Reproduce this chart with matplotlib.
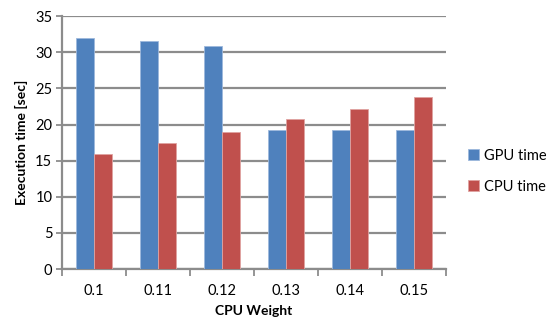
import matplotlib.pyplot as plt
import numpy as np

weights = ["0.1", "0.11", "0.12", "0.13", "0.14", "0.15"]
gpu_time = [32.0, 31.5, 30.8, 19.2, 19.2, 19.2]
cpu_time = [15.9, 17.4, 19.0, 20.7, 22.2, 23.8]

plt.rcParams["font.family"] = ["Lato", "DejaVu Sans"]

fig = plt.figure(figsize=(5.54, 3.23), dpi=100)
ax = fig.add_axes([0.112, 0.167, 0.693, 0.783])

x = np.arange(len(weights))
w = 0.285
ax.bar(x - w / 2, gpu_time, w, color="#4F81BD", edgecolor="#9db8dc", linewidth=0.6,
       label="GPU time", zorder=3)
ax.bar(x + w / 2, cpu_time, w, color="#C0504D", edgecolor="#e0a3a1", linewidth=0.6,
       label="CPU time", zorder=3)

ax.set_xlim(-0.5, len(weights) - 0.5)
ax.set_ylim(0, 35)
ax.set_yticks(range(0, 36, 5))
ax.yaxis.grid(True, color="#8c8c8c", linewidth=1.6, zorder=0)
ax.set_axisbelow(True)

# category labels in the middle, tick marks on the boundaries
ax.set_xticks(x)
ax.set_xticklabels(weights)
ax.tick_params(axis="x", length=0, pad=11)
ax.set_xticks(np.arange(-0.5, len(weights)), minor=True)
ax.tick_params(axis="x", which="minor", length=5, width=1.3, color="#8c8c8c")
ax.tick_params(axis="y", length=4, width=1.3, color="#8c8c8c", pad=3)
ax.tick_params(labelsize=10.5, labelcolor="black")

for side in ["top", "right"]:
    ax.spines[side].set_visible(False)
for side in ["left", "bottom"]:
    ax.spines[side].set_color("#8c8c8c")
    ax.spines[side].set_linewidth(1.6)

ax.set_xlabel("CPU Weight", fontsize=10, fontweight="bold", labelpad=5)
ax.set_ylabel("Execution time [sec]", fontsize=10, fontweight="bold", labelpad=5)

ax.legend(loc="center left", bbox_to_anchor=(1.03, 0.387), frameon=False, fontsize=10.5,
          handlelength=0.75, handleheight=0.75, handletextpad=0.35, labelspacing=1.15,
          borderaxespad=0.3)

fig.savefig("out.png", dpi=100)
